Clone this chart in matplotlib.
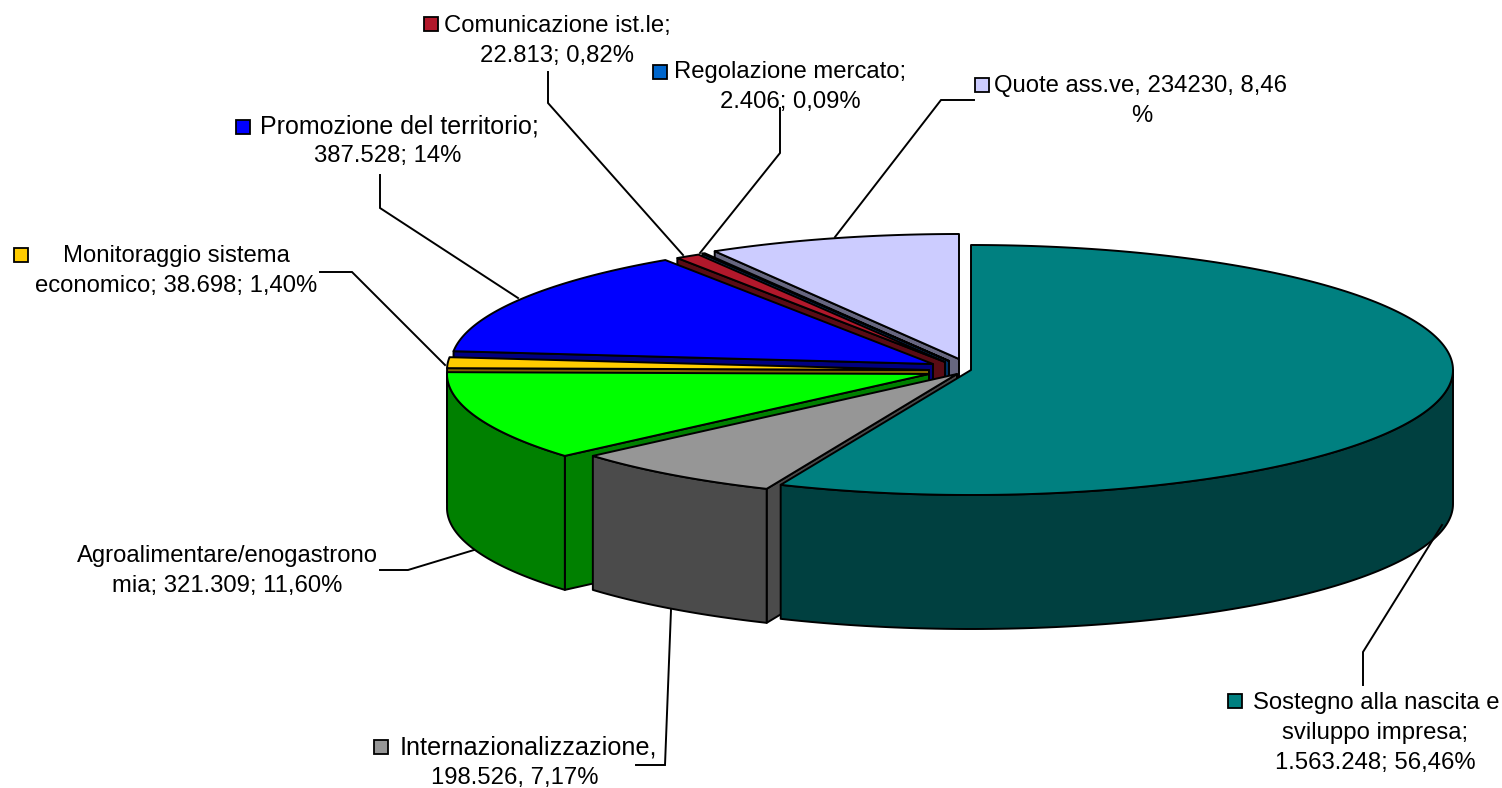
import numpy as np
import matplotlib
matplotlib.use("Agg")
import matplotlib.pyplot as plt

plt.rcParams['font.family'] = ['Liberation Sans', 'DejaVu Sans']

# data, clockwise from 12 o'clock
categories = ["Sostegno", "Internazionalizzazione", "Agroalimentare", "Monitoraggio",
              "Promozione", "Comunicazione", "Regolazione", "Quote"]
values = [1563248, 198526, 321309, 38698, 387528, 22813, 2406, 234230]
label_lines = [
    ["Sostegno alla nascita e", "sviluppo impresa;", "1.563.248; 56,46%"],
    ["Internazionalizzazione,", "198.526, 7,17%"],
    ["Agroalimentare/enogastrono", "mia; 321.309; 11,60%"],
    ["Monitoraggio sistema", "economico; 38.698; 1,40%"],
    ["Promozione del territorio;", "387.528; 14%"],
    ["Comunicazione ist.le;", "22.813; 0,82%"],
    ["Regolazione mercato;", "2.406; 0,09%"],
    ["Quote ass.ve, 234230, 8,46", "%"],
]

# style
top_colors = ["#008080", "#969696", "#00FF00", "#FFCC00", "#0000FF", "#B2182B", "#0066CC", "#CCCCFF"]
side_colors = ["#004040", "#4B4B4B", "#008000", "#806600", "#000080", "#590C15", "#003366", "#666680"]
# every slice is pulled out by its own amount, so each has its own tip
tips = [(971, 370), (957, 374), (929, 374), (929, 370), (933, 364), (945, 362), (949, 361), (959, 359)]
RX, RY, DEPTH = 482, 125, 134
EDGE = 1.4

# text centre of each line (x, y of first line), line pitch, legend key
text_x = [[1376, 1375, 1375], [528, 515], [227, 227], [176, 176], [399, 388], [557, 557], [790, 790], [1141, 1142]]
text_y = [703, 748, 556, 256, 126, 26, 72, 86]
text_size = [17.2, 18.2, 17.2, 17.2, 18.0, 17.2, 17.2, 17.2]
key_pos = [(1235, 701), (381, 747), None, (21, 255), (243, 127), (431, 24), (660, 72), (982, 85)]

# leader lines
leaders = [
    ([1363, 1363, 1442], [685, 652, 525]),
    ([636, 665, 671], [765, 765, 610]),
    ([380, 408, 474], [570, 570, 550]),
    ([320, 352, 445], [272, 272, 365]),
    ([380, 380, 518], [175, 208, 298]),
    ([548, 548, 683], [72, 103, 255]),
    ([780, 780, 700], [108, 153, 253]),
    ([974, 941, 835], [100, 100, 237]),
]


def rim(tip, a):
    return tip[0] + RX * np.sin(a), tip[1] - RY * np.cos(a)


def cut_face(ax, tip, a, side):
    x, y = rim(tip, a)
    ax.fill([tip[0], x, x, tip[0]], [tip[1], y, y + DEPTH, tip[1] + DEPTH],
            facecolor=side, edgecolor="black", lw=EDGE, joinstyle="round")


def draw_slice(ax, tip, a0, a1, top, side):
    # only the cut faces turned to the viewer, then outer wall, then the top
    if np.sin(a0) < -1e-6:
        cut_face(ax, tip, a0, side)
    if np.sin(a1) > 1e-6:
        cut_face(ax, tip, a1, side)
    w0, w1 = max(a0, np.pi / 2), min(a1, 3 * np.pi / 2)
    if w1 > w0:
        t = np.linspace(w0, w1, 120)
        x, y = rim(tip, t)
        ax.fill(np.r_[x, x[::-1]], np.r_[y, y[::-1] + DEPTH],
                facecolor=side, edgecolor="black", lw=EDGE, joinstyle="round")
    t = np.linspace(a0, a1, 200)
    x, y = rim(tip, t)
    ax.fill(np.r_[tip[0], x], np.r_[tip[1], y],
            facecolor=top, edgecolor="black", lw=EDGE, joinstyle="round")


fig = plt.figure(figsize=(15.02, 7.88), dpi=100)
ax = fig.add_axes([0, 0, 1, 1])
ax.set_xlim(0, 1502)
ax.set_ylim(788, 0)
ax.axis("off")

angles = np.r_[0, np.cumsum(values)] / np.sum(values) * 2 * np.pi

# back slices first, the big one goes on top
for i in range(len(values) - 1, -1, -1):
    draw_slice(ax, tips[i], angles[i], angles[i + 1], top_colors[i], side_colors[i])

for lx, ly in leaders:
    ax.plot(lx, ly, color="black", lw=1.4, solid_joinstyle="miter")

for i, lines in enumerate(label_lines):
    for j, line in enumerate(lines):
        # only the first line of a label gets the adjusted size
        size = text_size[i] if j == 0 else 17.2
        ax.text(text_x[i][j], text_y[i] + 30 * j, line, ha="center", va="center",
                fontsize=size, color="black")
    if key_pos[i] is not None:
        ax.plot(key_pos[i][0], key_pos[i][1], marker="s", ms=9.5, mfc=top_colors[i],
                mec="black", mew=1.3, ls="none")

fig.savefig("out.png", dpi=100)
